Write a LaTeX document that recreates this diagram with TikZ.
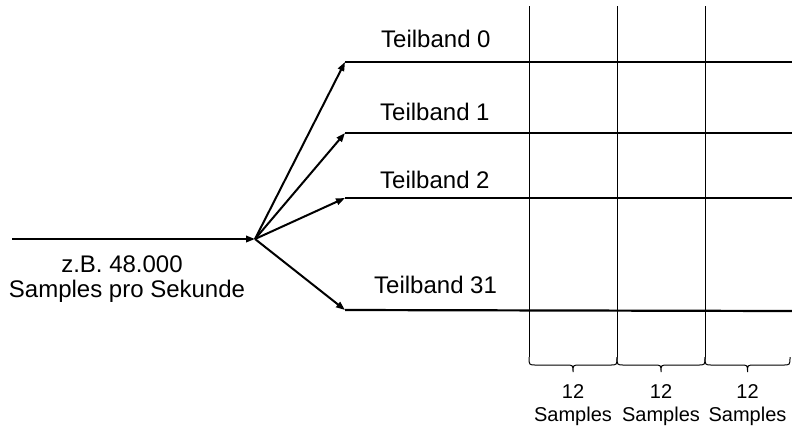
\documentclass[tikz,border=0pt]{standalone}
\usepackage{fontspec}
\setmainfont{Liberation Sans}
\usetikzlibrary{arrows.meta}
\begin{document}
\begin{tikzpicture}[x=1bp,y=-1bp,
  lbl/.style={font=\fontsize{24bp}{26bp}\selectfont, inner sep=0pt, anchor=base},
  small/.style={font=\fontsize{20bp}{24bp}\selectfont, inner sep=0pt, anchor=base},
  band/.style={line width=2.2bp},
  arr/.style={line width=2bp, -{Triangle[length=9bp,width=6.5bp]}},
  gridline/.style={line width=1bp},
]
\useasboundingbox (0,0) rectangle (792,426);

% input and fan
\coordinate (in) at (12,239);
\coordinate (fan) at (255,239);
\coordinate (b0) at (345,62);  \coordinate (e0) at (792,62);
\coordinate (b1) at (345,133); \coordinate (e1) at (792,133);
\coordinate (b2) at (345,198); \coordinate (e2) at (792,198);
\coordinate (b3) at (345,310); \coordinate (e3) at (792,311);

% vertical separators
\foreach \x [count=\i] in {529,617,705} {
  \coordinate (vt\i) at (\x,6);
  \coordinate (vb\i) at (\x,357);
  \draw[gridline] (vt\i) -- (vb\i);
}

% braces
\foreach \a/\b [count=\i] in {529/617, 617/705, 705/790} {
  \pgfmathsetmacro{\m}{(\a+\b)/2}
  \draw[gridline] (\a,357) .. controls (\a,365) .. (\a+7,365) -- (\m-7,365)
     .. controls (\m,365) .. (\m,372) .. controls (\m,365) .. (\m+7,365)
     -- (\b-7,365) .. controls (\b,365) .. (\b,357);
  \node[small] (n\i) at (\m,398) {12};
  \node[small] (s\i) at (\m,421) {Samples};
}

% bands
\draw[band] (b0) -- (e0);
\draw[band] (b1) -- (e1);
\draw[band] (b2) -- (e2);
\draw[band] (b3) -- (e3);

% arrows
\draw[arr] (in) -- (fan);
\draw[arr] (fan) -- (b0);
\draw[arr] (fan) -- (b1);
\draw[arr] (fan) -- (b2);
\draw[arr] (fan) -- (b3);

% labels
\node[lbl, anchor=base west] (t0) at (381,47) {Teilband 0};
\node[lbl, anchor=base west] (t1) at (380,120) {Teilband 1};
\node[lbl, anchor=base west] (t2) at (380,188) {Teilband 2};
\node[lbl, anchor=base west] (t3) at (374,293) {Teilband 31};

\node[lbl] (l1) at (122,272) {z.B. 48.000};
\node[lbl] (l2) at (127,297) {Samples pro Sekunde};
\end{tikzpicture}
\end{document}
